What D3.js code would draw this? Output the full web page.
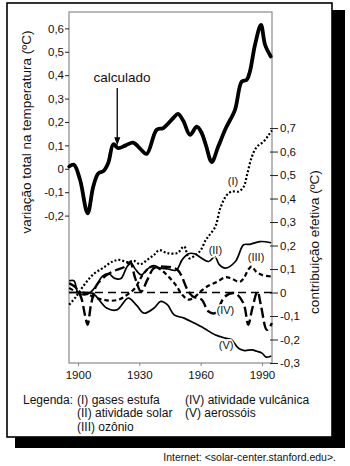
<!DOCTYPE html>
<html>
<head>
<meta charset="utf-8">
<script src="https://cdn.jsdelivr.net/npm/d3@7"></script>
<style>
  body { margin: 0; background: #fff; }
  svg { display: block; font-family: Arial, "Liberation Sans", sans-serif; }
</style>
</head>
<body>
<svg id="drawing_region"></svg>
<script>
// total temperature change (left axis)
const totalTemp = [[1895.7,0.01],[1898,0.017],[1901,-0.047],[1904.7,-0.19],[1907.5,-0.075],[1909.9,-0.02],[1912.4,-0.01],
  [1914.8,0.025],[1917.3,0.105],[1919.7,0.088],[1923.3,0.1],[1927,0.112],[1930.5,0.085],[1933.6,0.064],[1938.5,0.167],
  [1941.7,0.174],[1946.6,0.217],[1948.9,0.235],[1951.5,0.205],[1954.8,0.145],[1958.1,0.18],[1960.5,0.153],[1962.6,0.1],
  [1965.4,0.029],[1968.6,0.095],[1972.4,0.175],[1976.8,0.252],[1980.1,0.373],[1982.5,0.38],[1984.1,0.416],[1986.6,0.53],
  [1989.5,0.615],[1991.5,0.53],[1994.3,0.48]];

// contributions (right axis)
const gasesEstufa = [[1895.7,-0.052],[1899,-0.018],[1903.1,0.033],[1907.2,0.075],[1912.1,0.104],[1917,0.132],[1920.2,0.139],
  [1924.3,0.129],[1927.4,0.135],[1930.5,0.12],[1934,0.14],[1937.2,0.16],[1939.6,0.18],[1943.7,0.168],[1948.6,0.168],
  [1951.9,0.196],[1954.3,0.146],[1957.6,0.16],[1960,0.18],[1962.5,0.224],[1963.9,0.24],[1967.2,0.281],[1969.6,0.359],
  [1972.9,0.416],[1975.3,0.43],[1978.6,0.43],[1981.1,0.451],[1982.7,0.501],[1985.1,0.579],[1987.6,0.621],[1990.9,0.643],
  [1993.3,0.671],[1994.9,0.69]];
const atividadeSolar = [[1895.7,0.05],[1898,0.05],[1900,0.0],[1903,-0.01],[1906,0.0],[1909,0.03],[1912,0.07],[1915,0.08],
  [1918,0.06],[1921,0.06],[1924,0.11],[1926,0.125],[1928,0.1],[1931,0.075],[1934,0.1],[1937,0.115],[1940,0.105],[1944,0.1],
  [1948,0.095],[1951,0.14],[1954,0.165],[1957,0.165],[1960.5,0.146],[1964,0.132],[1967,0.153],[1969,0.12],[1972,0.104],
  [1977,0.132],[1981,0.203],[1984,0.205],[1989,0.217],[1994.5,0.212]];
const ozonio = [[1895.7,0.02],[1900,0.0],[1904,-0.005],[1908,-0.02],[1912,-0.03],[1916,-0.035],[1920,-0.03],[1924,-0.01],
  [1928,0.02],[1932,0.08],[1936,0.11],[1940,0.1],[1944,0.07],[1948,0.03],[1951,-0.01],[1954,-0.03],[1957,-0.02],
  [1960,0.005],[1964,0.03],[1968,0.045],[1972,0.065],[1975,0.06],[1979,0.045],[1981,0.06],[1983.5,0.1],[1985,0.111],
  [1987,0.09],[1990,0.075],[1994.5,0.068]];
const atividadeVulcanica = [[1895.7,0.04],[1899,0.02],[1901.5,-0.02],[1903.5,-0.1],[1904.7,-0.137],[1906.4,-0.05],
  [1909,0.03],[1912,0.06],[1915,0.08],[1919,0.097],[1923,0.11],[1925.5,0.13],[1928,0.06],[1930.9,0.004],[1933.9,0.054],
  [1937.2,0.104],[1942.1,0.11],[1948.6,0.097],[1953.6,0.011],[1956.1,-0.017],[1960.5,-0.03],[1963.7,-0.08],[1967,-0.088],
  [1971.9,-0.017],[1976.8,-0.003],[1980.9,-0.045],[1983.3,-0.137],[1985.2,-0.07],[1987.8,0.004],[1989.6,-0.06],
  [1992.4,-0.159],[1994.9,-0.13]];
const aerossois = [[1895.7,0.0],[1900,0.0],[1904,0.0],[1907,-0.003],[1909,-0.017],[1914,-0.066],[1919,-0.074],
  [1924.6,-0.024],[1928.7,-0.055],[1932.3,-0.088],[1937.2,-0.066],[1940.5,-0.038],[1943.7,-0.052],[1947,-0.095],
  [1951.9,-0.109],[1956.8,-0.13],[1961.6,-0.152],[1967,-0.18],[1972,-0.194],[1975,-0.2],[1978.5,-0.237],[1981.5,-0.247],
  [1985,-0.244],[1987.5,-0.25],[1990,-0.258],[1992,-0.275],[1994.5,-0.27]];

const leftTicks = [-0.2, -0.1, 0, 0.1, 0.2, 0.3, 0.4, 0.5, 0.6];
const rightTicks = [-0.3, -0.2, -0.1, 0, 0.1, 0.2, 0.3, 0.4, 0.5, 0.6, 0.7];
const yearTicks = [1900, 1930, 1960, 1990];
const seriesLabels = [
  { text: "(I)", year: 1975.8, value: 0.47 },
  { text: "(II)", year: 1967.2, value: 0.175 },
  { text: "(III)", year: 1987.1, value: 0.146 },
  { text: "(IV)", year: 1972.1, value: -0.081 },
  { text: "(V)", year: 1972.5, value: -0.23 }
];
const legendLeft = ["(I) gases estufa", "(II) atividade solar", "(III) ozônio"];
const legendRight = ["(IV) atividade vulcânica", "(V) aerossóis"];

var width = 350;
var height = 466;
var box = { left: 69, right: 272, top: 12, bottom: 363 };

var svg = d3.select('#drawing_region')
    .attr('width', width)
    .attr('height', height);

// frame with drop shadow
svg.append('rect').attr('x', 15).attr('y', 10).attr('width', 330).attr('height', 438).attr('fill', '#000');
svg.append('rect').attr('x', 7).attr('y', 3).attr('width', 325).attr('height', 434)
    .attr('fill', '#fff').attr('stroke', '#000').attr('stroke-width', 1.6);

const x = d3.scaleLinear().domain([1895.6, 1994.9]).range([box.left, box.right]);
const yL = d3.scaleLinear().domain([-0.83, 0.67]).range([box.bottom, box.top]);
const yR = d3.scaleLinear().domain([-0.3, 1.194]).range([box.bottom, box.top]);

const fmt = d => d === 0 ? "0" : (d < 0 ? "-" : "") + Math.abs(d).toFixed(1).replace(".", ",");

// plot box
svg.append('rect')
    .attr('x', box.left).attr('y', box.top)
    .attr('width', box.right - box.left).attr('height', box.bottom - box.top)
    .attr('fill', 'none').attr('stroke', '#8a8a8a').attr('stroke-width', 1.2);

// axes
const gL = svg.append('g')
    .attr('transform', `translate(${box.left},0)`)
    .call(d3.axisLeft(yL).tickValues(leftTicks).tickSize(4).tickPadding(1).tickFormat(fmt));
const gR = svg.append('g')
    .attr('transform', `translate(${box.right - 2},0)`)
    .call(d3.axisRight(yR).tickValues(rightTicks).tickSize(8).tickPadding(2).tickFormat(fmt));
const gX = svg.append('g')
    .attr('transform', `translate(0,${box.bottom})`)
    .call(d3.axisBottom(x).tickValues(yearTicks).tickSize(3).tickPadding(5).tickFormat(d3.format('d')));

[gL, gR, gX].forEach(g => {
    g.select('.domain').remove();
    g.selectAll('text').attr('font-size', '11.5px').attr('fill', '#111')
        .attr('font-family', 'Arial, "Liberation Sans", sans-serif');
    g.selectAll('line').attr('stroke', '#222');
});
gX.selectAll('line').attr('stroke', '#888');

// zero line
svg.append('line')
    .attr('x1', box.left).attr('x2', box.right)
    .attr('y1', yR(0)).attr('y2', yR(0))
    .attr('stroke', '#000').attr('stroke-width', 1.3).attr('stroke-dasharray', '8,5');

const lineL = d3.line().x(d => x(d[0])).y(d => yL(d[1])).curve(d3.curveCatmullRom);
const lineR = d3.line().x(d => x(d[0])).y(d => yR(d[1])).curve(d3.curveCatmullRom);

const contributions = [
    { data: aerossois, dash: null, w: 1.7 },
    { data: atividadeSolar, dash: null, w: 1.7 },
    { data: ozonio, dash: '4.5,3', w: 2.2 },
    { data: atividadeVulcanica, dash: '10,4', w: 2.4 },
    { data: gasesEstufa, dash: '2,2', w: 2.2 }
];
contributions.forEach(s => {
    svg.append('path')
        .attr('d', lineR(s.data))
        .attr('fill', 'none')
        .attr('stroke', '#000')
        .attr('stroke-width', s.w)
        .attr('stroke-dasharray', s.dash);
});

svg.append('path')
    .attr('d', lineL(totalTemp))
    .attr('fill', 'none')
    .attr('stroke', '#000')
    .attr('stroke-width', 3.8)
    .attr('stroke-linejoin', 'round')
    .attr('stroke-linecap', 'round');

// series labels (white halo, then text)
svg.selectAll('.slabel')
    .data(seriesLabels)
    .enter()
    .append('text')
    .attr('class', 'slabel')
    .attr('x', d => x(d.year))
    .attr('y', d => yR(d.value))
    .attr('text-anchor', 'middle')
    .attr('dominant-baseline', 'middle')
    .attr('fill', '#fff')
    .attr('stroke', '#fff')
    .attr('stroke-width', 3)
    .style('font-size', '11px')
    .text(d => d.text);
svg.selectAll('.slabel2')
    .data(seriesLabels)
    .enter()
    .append('text')
    .attr('x', d => x(d.year))
    .attr('y', d => yR(d.value))
    .attr('text-anchor', 'middle')
    .attr('dominant-baseline', 'middle')
    .attr('fill', '#111')
    .style('font-size', '11px')
    .text(d => d.text);

// "calculado" annotation
const ax = x(1919.2);
svg.append('text')
    .attr('x', 122).attr('y', yL(0.37))
    .attr('text-anchor', 'middle')
    .style('font-size', '13.5px')
    .attr('fill', '#111')
    .text('calculado');
svg.append('line')
    .attr('x1', ax).attr('x2', ax)
    .attr('y1', yL(0.345)).attr('y2', yL(0.13))
    .attr('stroke', '#000').attr('stroke-width', 1.3);
svg.append('path')
    .attr('d', `M${ax - 3},${yL(0.135)} L${ax + 3},${yL(0.135)} L${ax},${yL(0.1)} Z`)
    .attr('fill', '#000');

// axis titles
svg.append('text')
    .attr('transform', `translate(31,${132}) rotate(-90)`)
    .attr('text-anchor', 'middle')
    .style('font-size', '13.5px')
    .attr('fill', '#111')
    .text('variação total na temperatura (ºC)');
svg.append('text')
    .attr('transform', `translate(319,${242}) rotate(-90)`)
    .attr('text-anchor', 'middle')
    .style('font-size', '13.5px')
    .attr('fill', '#111')
    .text('contribuição efetiva (ºC)');

// legend
svg.append('text').attr('x', 23).attr('y', 404).style('font-size', '12px').attr('fill', '#111').text('Legenda:');
svg.selectAll('.legL').data(legendLeft).enter().append('text')
    .attr('x', 77).attr('y', (d, i) => 404 + i * 13.3)
    .style('font-size', '12px').attr('fill', '#111').text(d => d);
svg.selectAll('.legR').data(legendRight).enter().append('text')
    .attr('x', 185).attr('y', (d, i) => 404 + i * 13.3)
    .style('font-size', '12px').attr('fill', '#111').text(d => d);

// source
svg.append('text')
    .attr('x', 336).attr('y', 461)
    .attr('text-anchor', 'end')
    .style('font-size', '10.5px')
    .attr('fill', '#111')
    .text('Internet: <solar-center.stanford.edu>.');
</script>
</body>
</html>
